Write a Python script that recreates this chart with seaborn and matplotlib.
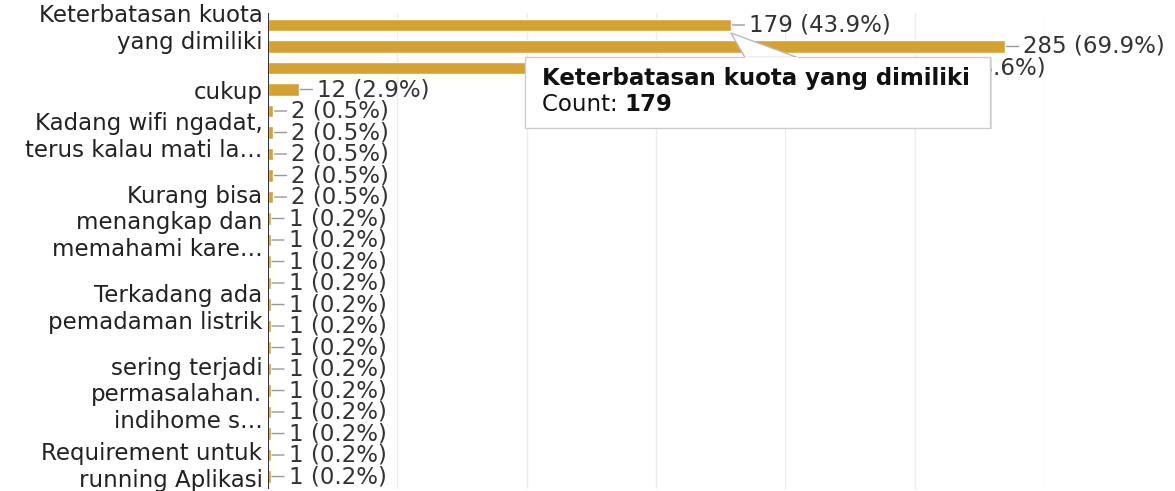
import matplotlib
matplotlib.use("Agg")
import matplotlib.pyplot as plt
import matplotlib.transforms as mtransforms
import seaborn as sns
import pandas as pd
from matplotlib.patches import Rectangle, Polygon

# Data (multi-select answers, 408 respondents)
total_respondents = 408
counts = [179, 285, 239, 12, 2, 2, 2, 2, 2,
          1, 1, 1, 1, 1, 1, 1, 1, 1, 1, 1, 1, 1]
# only some categories get a visible (wrapped / truncated) label
tick_labels = [
    "Keterbatasan kuota\nyang dimiliki", "", "", "cukup", "",
    "Kadang wifi ngadat,\nterus kalau mati la…", "", "", "",
    "Kurang bisa\nmenangkap dan\nmemahami kare…", "", "", "",
    "Terkadang ada\npemadaman listrik", "", "", "",
    "sering terjadi\npermasalahan.\nindihome s…", "", "", "",
    "Requirement untuk\nrunning Aplikasi",
]
tooltip_title = "Keterbatasan kuota yang dimiliki"

df = pd.DataFrame({"row": [f"r{i}" for i in range(len(counts))], "count": counts})

bar_color = "#d4a233"
text_color = "#222222"

sns.set_style("white")
plt.rcParams["font.family"] = ["DejaVu Sans"]

fig = plt.figure(figsize=(11.75, 4.91), dpi=100)
ax = fig.add_axes([268 / 1175, 2 / 491, 776 / 1175, 476 / 491])

sns.barplot(data=df, x="count", y="row", orient="h", color=bar_color,
            width=0.6, saturation=1, ax=ax, zorder=2)

ax.set_xlim(0, 300)
ax.set_ylim(21.58, -0.558)
ax.set_xticks(range(50, 301, 50))
ax.set_xticklabels([])
ax.grid(axis="x", color="#ececec", linewidth=1, zorder=0)
ax.grid(axis="y", visible=False)
for s in ax.spines.values():
    s.set_visible(False)
ax.axvline(0, color="#333333", linewidth=1.5, zorder=3)
ax.set_xlabel("")
ax.set_ylabel("")
ax.tick_params(axis="both", length=0)
ax.set_yticks(range(len(counts)))
ax.set_yticklabels(tick_labels, fontsize=16.5, color=text_color, linespacing=1.2)
ax.tick_params(axis="y", pad=4)

# last label sits a bit higher (its 3rd line is cropped away in the original)
last = ax.yaxis.get_major_ticks()[-1].label1
last.set_transform(last.get_transform() +
                   mtransforms.ScaledTranslation(0, 0.14, fig.dpi_scale_trans))

# value labels with short connector lines
for i, c in enumerate(counts):
    pct = c / total_respondents * 100
    ax.annotate(f"{c} ({pct:.1f}%)", xy=(c, i), xytext=(13, 0),
                textcoords="offset points", va="center", ha="left",
                fontsize=16.5, color="#333333", annotation_clip=False,
                arrowprops=dict(arrowstyle="-", color="#9a9a9a", lw=1,
                                shrinkA=1, shrinkB=1, relpos=(0, 0.5)),
                zorder=4)

# tooltip for the first bar
x0, x1, y0, y1 = 99.3, 279.1, 1.49, 4.79
shadow = Rectangle((x0 + 0.8, y0 + 0.06), x1 - x0, y1 - y0, facecolor="#000000",
                   alpha=0.12, edgecolor="none", zorder=8, clip_on=False)
ax.add_patch(shadow)
box = Rectangle((x0, y0), x1 - x0, y1 - y0, facecolor="white",
                edgecolor="#cccccc", linewidth=1, zorder=9, clip_on=False)
ax.add_patch(box)
pointer = Polygon([(counts[0], 0.37), (184.4, y0 + 0.02), (204.6, y0 + 0.02)],
                  closed=True, facecolor="white", edgecolor="#bbbbbb",
                  linewidth=1, zorder=10, clip_on=False)
ax.add_patch(pointer)
ax.plot([184.6, 204.4], [y0 + 0.03, y0 + 0.03], color="white", lw=2, zorder=11)
ax.text(105.9, 2.51, tooltip_title, fontsize=16.5, fontweight="bold",
        color="#111111", va="center", ha="left", zorder=12)
t = ax.text(105.9, 3.72, "Count: ", fontsize=16.5, color="#111111",
            va="center", ha="left", zorder=12)
ax.annotate(str(counts[0]), xy=(1, 0.5), xycoords=t, va="center", ha="left",
            fontsize=16.5, fontweight="bold", color="#111111", zorder=12)

fig.savefig("out.png", dpi=100)
